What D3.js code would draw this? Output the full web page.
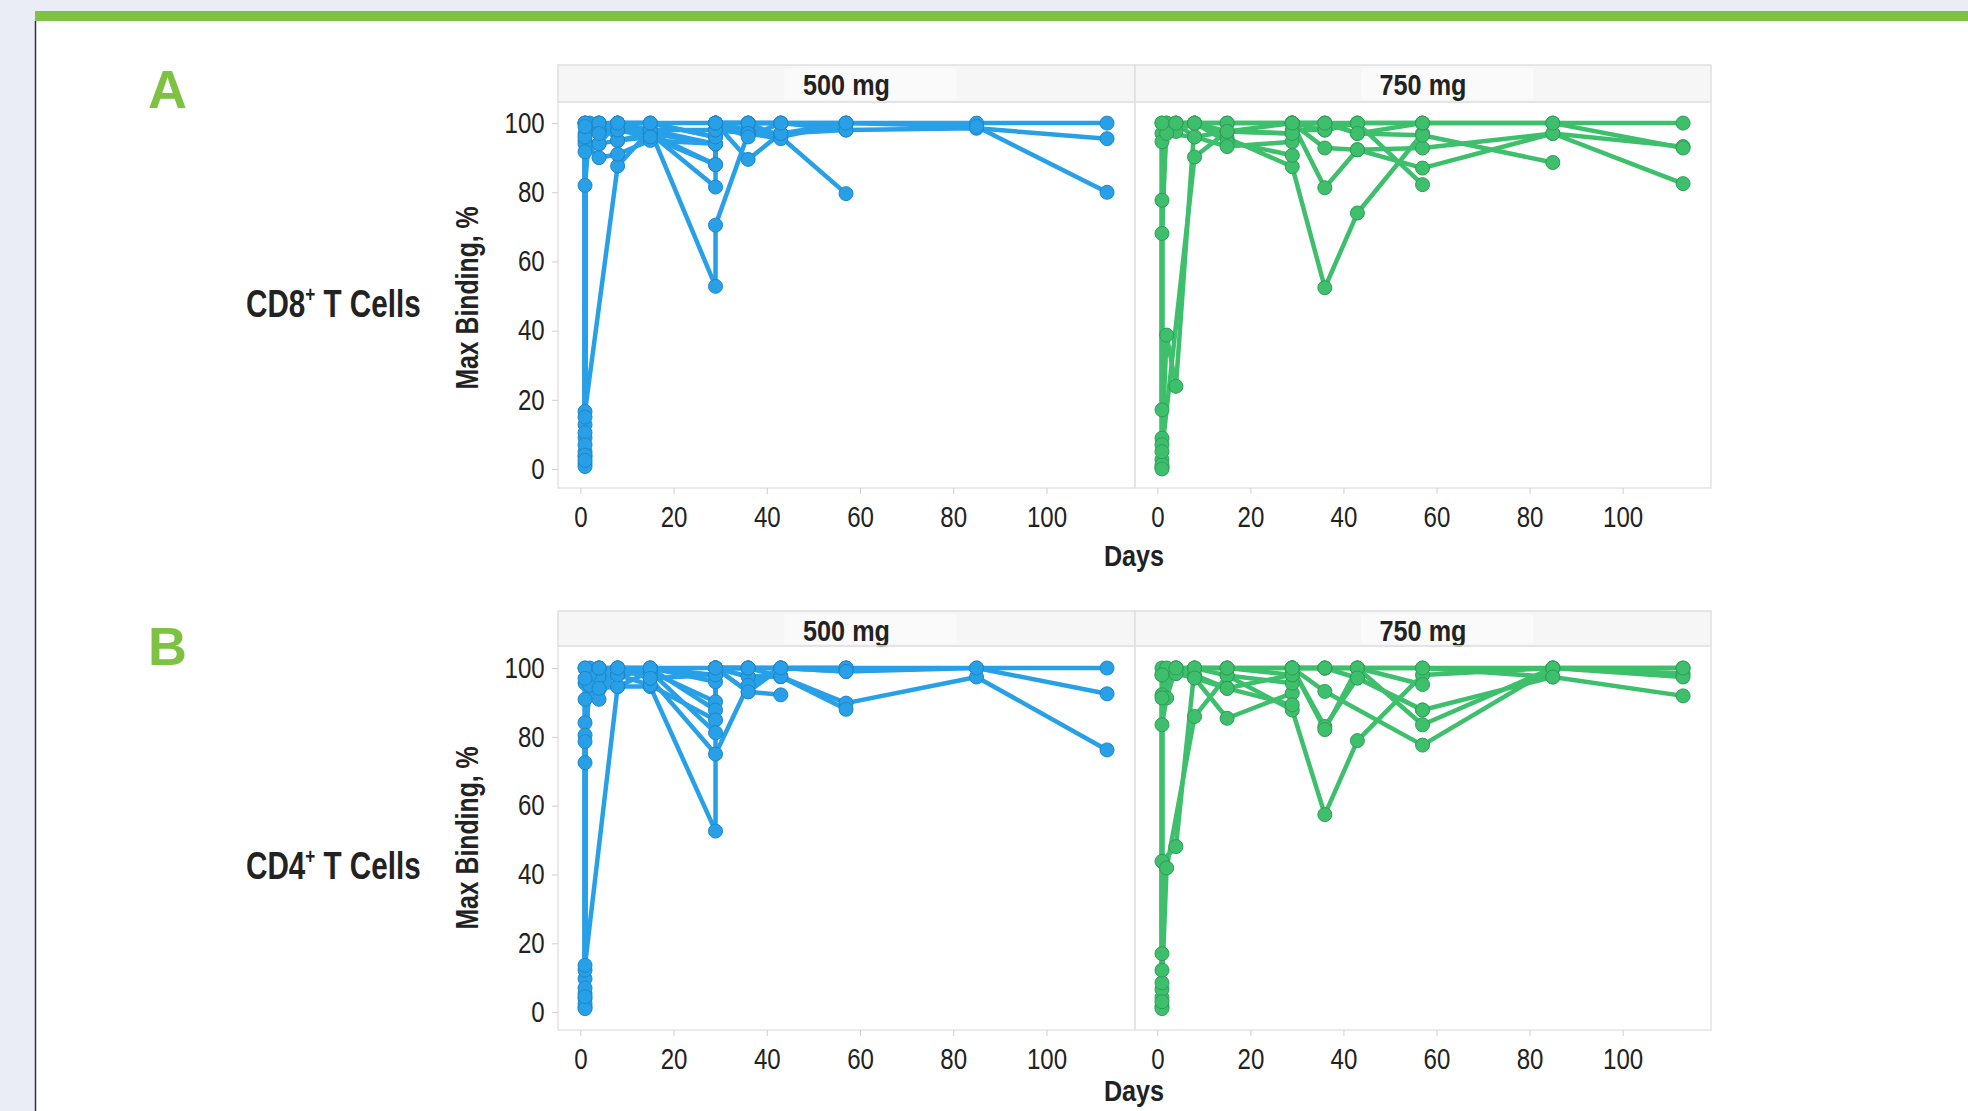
<!DOCTYPE html>
<html>
<head>
<meta charset="utf-8">
<script src="https://cdn.jsdelivr.net/npm/d3@7"></script>
<style>
body { margin: 0; background: #eaedf6; overflow: hidden; }
text { font-family: "Liberation Sans", Arial, sans-serif; fill: #222; }
</style>
</head>
<body>
<script>
// sampling days: day 1 pre-dose, day 1 post-dose, 2, 4, 8, 15, 29 pre, 29 post, 36, 43, 57, 85, 113
var days = [1, 1, 2, 4, 8, 15, 29, 29, 36, 43, 57, 85, 113];

var cd8_500 = [
    [5, 100, null, 100, 100, 100, 96, 100, 100, 100, 100, 100, 100],
    [3.5, 97, null, 98, 98, 98, 94, 100, 98, 97, 98, 98.5, 95.5],
    [12.8, 95, null, 94, 95, 96, 88, 100, 97, 96, 100, 99, 80],
    [9, 82, 99, 97.6, 100, 97, 94, 100, 100, 96, 79.6],
    [16.6, null, null, null, 87.6, 98, 52.8, 70.5, 97, 95.5],
    [10.5, 100, null, 100, 95, 97, 88, 100, 89.5, 97],
    [7, 94, null, 90, 91, 95, 94, 100, 100, 100, 100],
    [1.6, 91.7, null, 94, 100, 100, 96, 98, 97],
    [15, 100, 100, 100, 98, 97, 81.5, 100, 100, 100, 98],
    [0.7, 100, null, 98, 100, 98, 98, 100, 97, 97, 100],
    [4, 96, null, 100, 98, 96],
    [2.5, 99, null, 97, 100, 100, 100, 100, 96, 100]
];
var cd8_750 = [
    [0.5, 100, null, 100, 100, 100, 100, 100, 100, 100, 100, 100, 100],
    [2.7, 97, null, 100, 96, 97.6, 97, 100, 81.3, 92.3, 92.8, 97, 93.2],
    [8.9, 68.1, 100, 100, 100, 95.7, 87.4, null, 52.4, 74, 97],
    [7, null, 38.7, 23.9, 100, 100, 100, 100, 98, 100, 82.2],
    [17.1, 77.7, 100, 97.6, 100, 94.6, 90.7, 100, 92.8, 92.3, 87, 97, 82.5],
    [1.2, 94.6, 97, null, 96, 93.2, 94.6, 100, 100, 97, 96.5, 88.6],
    [0, 100, null, 100, 100, 97.6, 100, 98, 98, 100, 100],
    [5, null, null, null, 90.2, 97.6, 97, 100, 100, 97, 100, 100, 92.8]
];
var cd4_500 = [
    [1.5, 100, null, 100, 100, 100, 98, 100, 100, 100, 100, 100, 100],
    [3.9, 95.6, null, 97.5, 98, 99, 90.2, 100, 97.5, 97.5, 89.8, 97.4, 76.2],
    [5.4, 90.9, null, 94.1, 94.6, 94.6, 52.6, 100, 100, 100, 99, 100, 92.5],
    [9.7, 84.1, 100, 90.9, 100, 100, 87.8, 100, 93.1, 92.2],
    [12.2, 80.5, 97, 100, 98, 95, 84.9, 100, 97.5, 97.5, 88],
    [13.6, null, null, null, 94.6, 99, 81.2, 100, 100, 100, 100],
    [2.5, 78.6, 95, 97.5, 100, 97, 75, null, 95, 100, 100],
    [7, 72.5, 98, 100, 98, 100, 96, 100, 100, 97.5],
    [1, 100, null, 100, 100, 100, 100, 100, 100],
    [4.5, 97, null, 94.1, 100, 97, 98, 100, 93.1, 100, 99]
];
var cd4_750 = [
    [1.7, 100, null, 100, 100, 100, 100, 100, 100, 100, 100, 100, 100],
    [4.2, 98, null, 98.4, 97.1, 85.4, 92.7, 100, 93.2, null, 77.6, 100, 98.4],
    [6.6, 43.8, null, 48.1, 100, 97.8, 87.8, null, 57.4, 78.9, 98, 100, 97.4],
    [8.5, null, 41.9, null, 85.9, 97.8, 95.6, 100, 83, 97.1, 87.8, 97.4, 91.9],
    [12.2, 92.2, null, 100, 98, 94.1, 89.3, 100, 100, 100, 83.5, 100, 100],
    [17, 83.5, 91.3, 100, 100, 100, 98, 100, 82.1, 100, 95.2],
    [1, 91.3, 100, 98.4, 100, 100, 100, 100, 100, 100, 100, 97.4],
    [3, 98, null, 100, 97.1, 94.1, 98, 100, 100, 97.1, 87.8]
];

var doses = ["500 mg", "750 mg"];
var rowNames = ["CD8", "CD4"];
var rowLetters = ["A", "B"];
var xTicks = [0, 20, 40, 60, 80, 100];
var yTicks = [0, 20, 40, 60, 80, 100];

var panelData = [[cd8_500, cd8_750], [cd4_500, cd4_750]];
var colors = [{fill: "#28a0e8", stroke: "#1f86c8"}, {fill: "#3dbf6c", stroke: "#2e9e57"}];

var width = 1968, height = 1111;
var panelX = [[558, 1135], [1135, 1711]];
var rowLayout = [
    {stripTop: 65, plotTop: 102, plotBottom: 488, yMin: -5.5, yMax: 106.1, labelY: 317, letterY: 108, titleY: 298, daysY: 566},
    {stripTop: 611, plotTop: 646, plotBottom: 1030, yMin: -5.2, yMax: 106.4, labelY: 879, letterY: 665, titleY: 838, daysY: 1101}
];

var svg = d3.select("body").append("svg")
    .attr("width", width)
    .attr("height", height);

// page frame
svg.append("rect").attr("width", width).attr("height", height).attr("fill", "#eaedf6");
svg.append("rect").attr("x", 35).attr("y", 21).attr("width", width - 35).attr("height", height - 21).attr("fill", "#fff");
svg.append("rect").attr("x", 35).attr("y", 11).attr("width", width - 35).attr("height", 10).attr("fill", "#7dc242");
svg.append("line").attr("x1", 35.5).attr("x2", 35.5).attr("y1", 21).attr("y2", height)
    .attr("stroke", "#2e3340").attr("stroke-width", 1.5);

// no narrow font installed, so squeeze the text horizontally
function narrowText(x, y, k, rot) {
    return "translate(" + x + "," + y + ")" + (rot ? "rotate(" + rot + ")" : "") + "scale(" + k + ",1)";
}

rowLayout.forEach(function (row, r) {

    svg.append("text")
        .attr("x", 148).attr("y", row.letterY)
        .style("font-weight", "bold").style("font-size", "54px")
        .style("fill", "#7dc242")
        .text(rowLetters[r]);

    var lab = svg.append("text")
        .attr("transform", narrowText(246, row.labelY, 0.78))
        .style("font-weight", "bold").style("font-size", "38px");
    lab.append("tspan").text(rowNames[r]);
    lab.append("tspan").attr("dy", -15).style("font-size", "22px").text("+");
    lab.append("tspan").attr("dy", 15).text(" T Cells");

    svg.append("text")
        .attr("transform", narrowText(478, row.titleY, 0.8, -90))
        .attr("text-anchor", "middle")
        .style("font-weight", "bold").style("font-size", "31px")
        .text("Max Binding, %");

    svg.append("text")
        .attr("transform", narrowText(1134, row.daysY, 0.84))
        .attr("text-anchor", "middle")
        .style("font-weight", "bold").style("font-size", "30px")
        .text("Days");

    doses.forEach(function (dose, d) {
        var x = d3.scaleLinear().domain([-4.8, 119]).range(panelX[d]);
        var y = d3.scaleLinear().domain([row.yMin, row.yMax]).range([row.plotBottom, row.plotTop]);
        var x0 = panelX[d][0], x1 = panelX[d][1];
        var mid = (x0 + x1) / 2;
        var g = svg.append("g");

        // facet strip
        g.append("rect")
            .attr("x", x0).attr("y", row.stripTop)
            .attr("width", x1 - x0).attr("height", row.plotTop - row.stripTop)
            .attr("fill", "#f6f6f6").attr("stroke", "#e0e0e0").attr("stroke-width", 1.5);
        g.append("rect")
            .attr("x", mid - 62).attr("y", row.stripTop + 3)
            .attr("width", 172).attr("height", row.plotTop - row.stripTop - 5)
            .attr("fill", "#fafafa");
        g.append("text")
            .attr("transform", narrowText(mid, row.stripTop + 30, 0.84))
            .attr("text-anchor", "middle")
            .style("font-weight", "bold").style("font-size", "30px")
            .text(dose);

        g.append("rect")
            .attr("x", x0).attr("y", row.plotTop)
            .attr("width", x1 - x0).attr("height", row.plotBottom - row.plotTop)
            .attr("fill", "none").attr("stroke", "#e4e4e4").attr("stroke-width", 1.5);

        // x axis
        var xa = g.append("g")
            .attr("transform", "translate(0," + row.plotBottom + ")")
            .call(d3.axisBottom(x).tickValues(xTicks).tickSize(6).tickPadding(12));
        xa.select(".domain").remove();
        xa.selectAll("line").attr("stroke", "#cfcfcf");
        xa.selectAll("text")
            .attr("transform", "scale(0.83,1)")
            .style("font-size", "29px").style("fill", "#222")
            .style("font-family", "'Liberation Sans', Arial, sans-serif");

        if (d == 0) {
            var ya = g.append("g")
                .attr("transform", "translate(" + x0 + ",0)")
                .call(d3.axisLeft(y).tickValues(yTicks).tickSize(6).tickPadding(10));
            ya.select(".domain").remove();
            ya.selectAll("line").attr("stroke", "#cfcfcf");
            ya.selectAll("text")
                .attr("transform", "scale(0.83,1)")
                .style("font-size", "29px").style("fill", "#222")
                .style("font-family", "'Liberation Sans', Arial, sans-serif");
        }

        var subjects = panelData[r][d].map(function (vals) {
            var pts = [];
            vals.forEach(function (v, i) { if (v != null) pts.push([days[i], v]); });
            return pts;
        });

        var line = d3.line()
            .x(function (p) { return x(p[0]); })
            .y(function (p) { return y(p[1]); });

        g.selectAll(".subj")
            .data(subjects)
            .enter().append("path")
            .attr("class", "subj")
            .attr("d", line)
            .attr("fill", "none")
            .attr("stroke", colors[d].fill)
            .attr("stroke-width", 4.5)
            .attr("stroke-linejoin", "round");

        var allPts = [];
        subjects.forEach(function (s) { allPts = allPts.concat(s); });

        g.selectAll(".pt")
            .data(allPts)
            .enter().append("circle")
            .attr("class", "pt")
            .attr("cx", function (p) { return x(p[0]); })
            .attr("cy", function (p) { return y(p[1]); })
            .attr("r", 7)
            .attr("fill", colors[d].fill)
            .attr("stroke", colors[d].stroke)
            .attr("stroke-width", 1);
    });
});
</script>
</body>
</html>
